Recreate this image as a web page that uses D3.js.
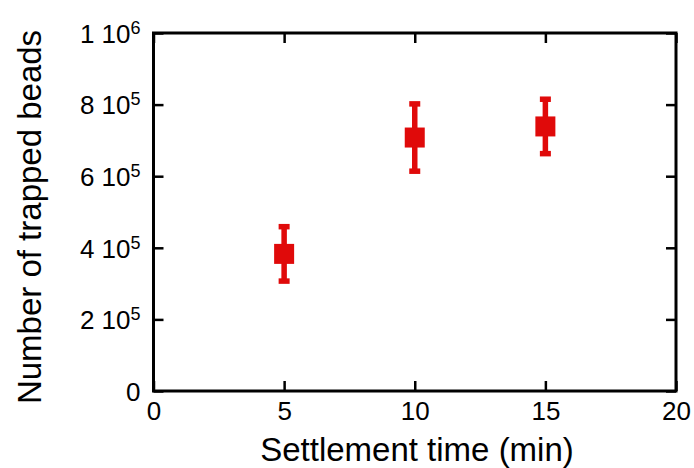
<!DOCTYPE html>
<html>
<head>
<meta charset="utf-8">
<script src="https://cdn.jsdelivr.net/npm/d3@7"></script>
<style>
  body { margin: 0; background: #fff; }
  text { font-family: "Liberation Sans", Arial, sans-serif; fill: #000; }
</style>
</head>
<body>
<script>
// data
var times = [5, 10, 15];
var beads = [383000, 708000, 739000];
var errs = [76000, 94000, 76000];
var xTicks = [0, 5, 10, 15, 20];
var yTicks = [0, 200000, 400000, 600000, 800000, 1000000];
var yMant = ["0", "2", "4", "6", "8", "1"];
var yExp = ["", "5", "5", "5", "5", "6"];

var width = 694;
var height = 468;
var pLeft = 153.5, pRight = 676, pTop = 33, pBottom = 391;
var red = "#e00a0a";

var svg = d3
  .select("body")
  .append("svg")
  .attr("width", width)
  .attr("height", height);

var xScale = d3.scaleLinear().domain([0, 20]).range([pLeft, pRight]);
var yScale = d3.scaleLinear().domain([0, 1000000]).range([pBottom, pTop]);

// bottom axis
var xAxis = svg
  .append("g")
  .attr("transform", "translate(0," + pBottom + ")")
  .call(
    d3.axisBottom(xScale).tickValues(xTicks).tickSizeInner(-10).tickSizeOuter(0).tickPadding(11)
  );
// top axis, ticks only
var xTop = svg
  .append("g")
  .attr("transform", "translate(0," + pTop + ")")
  .call(d3.axisTop(xScale).tickValues(xTicks).tickSizeInner(-10).tickSizeOuter(0).tickFormat(""));
// left axis
var yAxis = svg
  .append("g")
  .attr("transform", "translate(" + pLeft + ",0)")
  .call(
    d3.axisLeft(yScale).tickValues(yTicks).tickSizeInner(-10).tickSizeOuter(0).tickPadding(13)
  );
// right axis, ticks only
var yRight = svg
  .append("g")
  .attr("transform", "translate(" + pRight + ",0)")
  .call(d3.axisRight(yScale).tickValues(yTicks).tickSizeInner(-10).tickSizeOuter(0).tickFormat(""));

svg.selectAll(".domain").remove();
svg.selectAll(".tick line").attr("stroke", "#000").attr("stroke-width", 2.5);
svg.selectAll("g").attr("font-size", 26).attr("font-family", "Liberation Sans, Arial, sans-serif");

// y labels with exponents
yAxis.selectAll(".tick text").each(function(d, i) {
  var t = d3.select(this);
  t.text(null).attr("dy", "0.36em");
  if (yExp[i] == "") {
    t.text(yMant[i]);
  } else {
    t.append("tspan").text(yMant[i] + " 10");
    t.append("tspan").attr("font-size", 18).attr("dy", -9).text(yExp[i]);
  }
});

// frame
svg
  .append("rect")
  .attr("x", pLeft)
  .attr("y", pTop)
  .attr("width", pRight - pLeft)
  .attr("height", pBottom - pTop)
  .attr("fill", "none")
  .attr("stroke", "#000")
  .attr("stroke-width", 3);

// error bars
var pts = svg.append("g");
times.forEach(function(t, i) {
  var cx = xScale(t);
  var yHi = yScale(beads[i] + errs[i]);
  var yLo = yScale(beads[i] - errs[i]);
  pts
    .append("rect")
    .attr("x", cx - 2.75)
    .attr("y", yHi)
    .attr("width", 5.5)
    .attr("height", yLo - yHi)
    .attr("fill", red);
  [yHi, yLo].forEach(function(y) {
    pts
      .append("rect")
      .attr("x", cx - 5.5)
      .attr("y", y - 2.75)
      .attr("width", 11)
      .attr("height", 5.5)
      .attr("fill", red);
  });
  pts
    .append("rect")
    .attr("x", cx - 10)
    .attr("y", yScale(beads[i]) - 10)
    .attr("width", 20)
    .attr("height", 20)
    .attr("fill", red);
});

// axis titles
svg
  .append("text")
  .attr("x", 417)
  .attr("y", 461)
  .attr("text-anchor", "middle")
  .attr("font-size", 33)
  .text("Settlement time (min)");
svg
  .append("text")
  .attr("transform", "translate(41,217) rotate(-90)")
  .attr("text-anchor", "middle")
  .attr("font-size", 33)
  .text("Number of trapped beads");
</script>
</body>
</html>
